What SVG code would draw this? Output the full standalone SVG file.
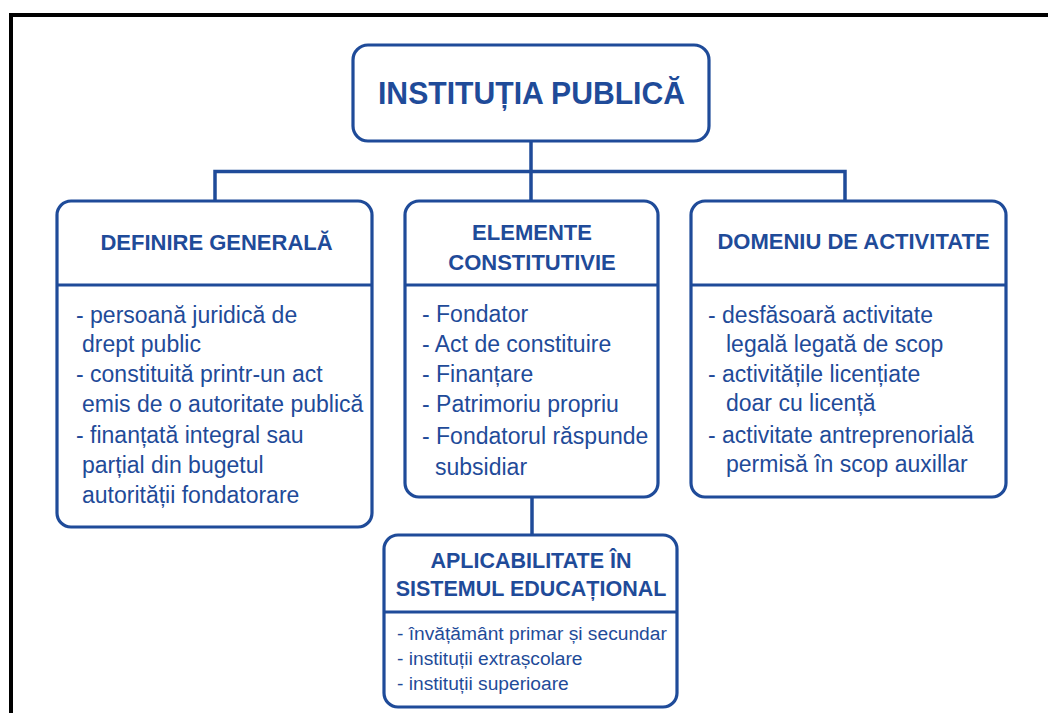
<svg xmlns="http://www.w3.org/2000/svg" width="1048" height="713" viewBox="0 0 1048 713">
<style>
.box{fill:#fff;stroke:#1f4b99;stroke-width:3.2}
.div{stroke:#1f4b99;stroke-width:3}
.con{fill:none;stroke:#1f4b99;stroke-width:3.5}
.t{font-family:"Liberation Sans",Arial,sans-serif;font-weight:bold;fill:#1f4b99;text-anchor:middle}
.b{font-family:"Liberation Sans",Arial,sans-serif;fill:#1f4b99;font-size:23px}
.s{font-family:"Liberation Sans",Arial,sans-serif;fill:#1f4b99;font-size:19.2px}
</style>
<rect x="0" y="0" width="1048" height="713" fill="#fff"/>
<path d="M11,713 V15 H1048" fill="none" stroke="#000" stroke-width="4"/>
<g id="connectors">
<path class="con" d="M531,141 V201 M215,201 V171.5 H845 V201"/>
<path class="con" d="M532,497 V535"/>
</g>
<g id="root">
<rect class="box" x="353" y="45" width="356" height="96" rx="15"/>
<text class="t" x="531.5" y="104" font-size="32" textLength="307" lengthAdjust="spacingAndGlyphs">INSTITUȚIA PUBLICĂ</text>
</g>
<g id="definire">
<rect class="box" x="57" y="201" width="315" height="326" rx="14"/>
<line class="div" x1="57" y1="285" x2="372" y2="285"/>
<text class="t" x="216.5" y="250" font-size="22">DEFINIRE GENERALĂ</text>
<text class="b" x="76" y="323">- persoană juridică de</text>
<text class="b" x="82" y="352">drept public</text>
<text class="b" x="76" y="382">- constituită printr-un act</text>
<text class="b" x="82" y="412">emis de o autoritate publică</text>
<text class="b" x="76" y="443">- finanțată integral sau</text>
<text class="b" x="82" y="473">parțial din bugetul</text>
<text class="b" x="82" y="503">autorității fondatorare</text>
</g>
<g id="elemente">
<rect class="box" x="405" y="201" width="253" height="296" rx="14"/>
<line class="div" x1="405" y1="285" x2="658" y2="285"/>
<text class="t" x="532" y="240" font-size="22">ELEMENTE</text>
<text class="t" x="532" y="270" font-size="22">CONSTITUTIVIE</text>
<text class="b" x="422" y="322">- Fondator</text>
<text class="b" x="422" y="352">- Act de constituire</text>
<text class="b" x="422" y="382">- Finanțare</text>
<text class="b" x="422" y="412">- Patrimoriu propriu</text>
<text class="b" x="422" y="444">- Fondatorul răspunde</text>
<text class="b" x="435" y="475">subsidiar</text>
</g>
<g id="domeniu">
<rect class="box" x="691" y="201" width="315" height="296" rx="14"/>
<line class="div" x1="691" y1="285" x2="1006" y2="285"/>
<text class="t" x="853.5" y="249" font-size="22">DOMENIU DE ACTIVITATE</text>
<text class="b" x="708" y="323">- desfăsoară activitate</text>
<text class="b" x="726" y="352">legală legată de scop</text>
<text class="b" x="708" y="382">- activitățile licențiate</text>
<text class="b" x="726" y="411">doar cu licență</text>
<text class="b" x="708" y="443">- activitate antreprenorială</text>
<text class="b" x="726" y="472">permisă în scop auxillar</text>
</g>
<g id="aplicabilitate">
<rect class="box" x="384" y="535" width="293" height="172" rx="14"/>
<line class="div" x1="384" y1="612" x2="677" y2="612"/>
<text class="t" x="531" y="568" font-size="21.5">APLICABILITATE ÎN</text>
<text class="t" x="531" y="596" font-size="21.5">SISTEMUL EDUCAȚIONAL</text>
<text class="s" x="397" y="640">- învățământ primar și secundar</text>
<text class="s" x="397" y="665">- instituții extrașcolare</text>
<text class="s" x="397" y="690">- instituții superioare</text>
</g>
</svg>
